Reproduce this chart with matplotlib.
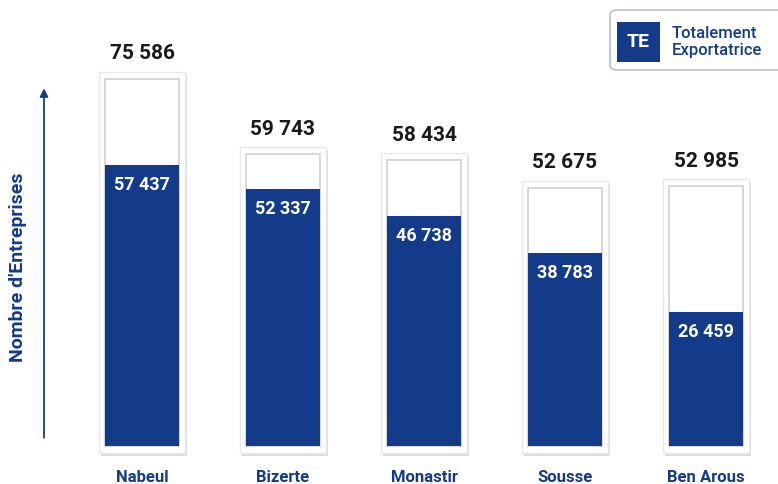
import matplotlib.pyplot as plt
from matplotlib.patches import Rectangle, FancyBboxPatch

regions = ["Nabeul", "Bizerte", "Monastir", "Sousse", "Ben Arous"]
total = [75586, 59743, 58434, 52675, 52985]
te = [57437, 52337, 46738, 38783, 26459]

navy = "#133b8a"
dark = "#1a1a1a"
plt.rcParams['font.family'] = ['Roboto', 'DejaVu Sans']

fig = plt.figure(figsize=(7.78, 4.84), dpi=100)
ax = fig.add_axes([0, 0, 1, 1])

px_x = 1 / 141.0      # one pixel in x units
px_y = 1000 / 4.745   # one pixel in y units
ax.set_xlim(-142 * px_x, 636 * px_x)
ax.set_ylim(-46.5 * px_y, 437.5 * px_y)
ax.axis("off")

inner_w = 74 * px_x
outer_w = 86 * px_x
pad = 7 * px_y
base = -8.5 * px_y    # boxes start a little under zero


def fmt(v):
    return f"{v:,}".replace(",", " ")


for i, (t, b) in enumerate(zip(total, te)):
    # shadow + outer white frame
    ax.add_patch(Rectangle((i - outer_w / 2 + 1.5 * px_x, base - pad - 3 * px_y), outer_w,
                           t - base + 2 * pad, facecolor="#dddddd", edgecolor="none", zorder=1))
    ax.add_patch(Rectangle((i - outer_w / 2, base - pad), outer_w, t - base + 2 * pad,
                           facecolor="white", edgecolor="#e8e8e8", lw=1, zorder=2))
    # inner box
    ax.add_patch(Rectangle((i - inner_w / 2, base), inner_w, t - base,
                           facecolor="white", edgecolor="#cfcfcf", lw=1.2, zorder=3))
    ax.bar(i, b - base, bottom=base, width=inner_w, color=navy, zorder=4)
    ax.text(i, t + pad + 18 * px_y, fmt(t), ha="center", va="center",
            fontsize=15, fontweight="bold", color=dark, zorder=5)
    ax.text(i, b - 20 * px_y, fmt(b), ha="center", va="center",
            fontsize=13, fontweight="bold", color="white", zorder=5)
    ax.text(i, -39.5 * px_y, regions[i], ha="center", va="center",
            fontsize=12, fontweight="bold", color=navy, zorder=5)

# y arrow
ax.annotate("", xy=(-98 * px_x, 352 * px_y), xytext=(-98 * px_x, -3 * px_y),
            arrowprops=dict(arrowstyle="-|>", color=navy, lw=1.3, mutation_scale=12))
ax.text(-124 * px_x, 170 * px_y, "Nombre d'Entreprises", rotation=90, ha="center",
        va="center", fontsize=14, fontweight="bold", color=navy)

# legend box
fig.patches.append(FancyBboxPatch((610 / 778, 1 - 70 / 484), 200 / 778, 60 / 484,
                                  boxstyle="round,pad=0,rounding_size=0.01",
                                  transform=fig.transFigure, facecolor="white",
                                  edgecolor="#b9bfd0", lw=1.2))
fig.patches.append(Rectangle((617 / 778, 1 - 62 / 484), 43 / 778, 40 / 484,
                             transform=fig.transFigure, facecolor=navy, edgecolor="none"))
fig.text(638.5 / 778, 1 - 42 / 484, "TE", ha="center", va="center", fontsize=14,
         fontweight="bold", color="white")
fig.text(672 / 778, 1 - 42 / 484, "Totalement\nExportatrice", ha="left", va="center",
         fontsize=12, color=navy, linespacing=1.1, fontweight="medium")

fig.savefig("out.png", dpi=100, facecolor="white")
